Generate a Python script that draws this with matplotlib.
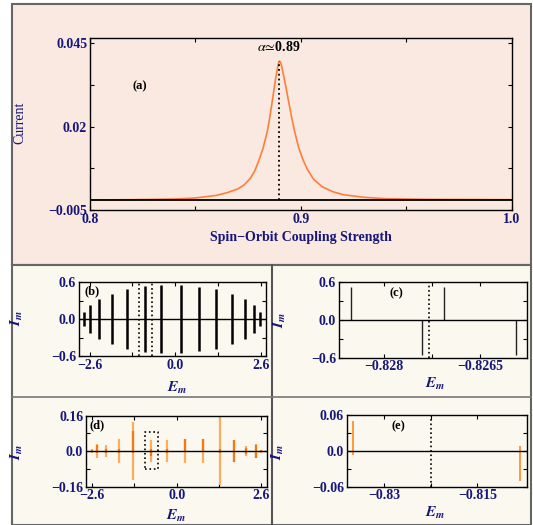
import matplotlib
matplotlib.use("Agg")
import matplotlib.pyplot as plt
from matplotlib.patches import Rectangle
from matplotlib.lines import Line2D

plt.rcParams['font.family'] = ['Liberation Serif', 'DejaVu Serif']
plt.rcParams['mathtext.fontset'] = 'stix'

NAVY = '#17177a'
ORANGE = '#ff7f3a'
PINK = '#f9e9e1'
CREAM = '#fbf8f0'

# (a) current vs spin-orbit coupling strength
alpha = [0.800, 0.820, 0.840, 0.850, 0.860, 0.865, 0.870, 0.873, 0.876, 0.878,
         0.880, 0.882, 0.884, 0.885, 0.886, 0.887, 0.888, 0.8887, 0.8893, 0.8898,
         0.8903, 0.8909, 0.8916, 0.8925, 0.894, 0.8955, 0.897, 0.899, 0.901, 0.903,
         0.906, 0.910, 0.915, 0.920, 0.930, 0.940, 0.960, 1.000]
current = [-0.0020, -0.0019, -0.0017, -0.0014, -0.0006, 0.0002, 0.0013, 0.0025, 0.0045, 0.0066,
           0.0098, 0.0135, 0.0185, 0.0220, 0.0260, 0.0303, 0.0345, 0.0370, 0.0390, 0.0397,
           0.0393, 0.0380, 0.0358, 0.0330, 0.0280, 0.0230, 0.0185, 0.0135, 0.0100, 0.0072,
           0.0042, 0.0020, 0.0005, -0.0004, -0.0012, -0.0016, -0.0018, -0.0019]
baseline = -0.002
alpha_peak = 0.8897
current_peak = 0.0397

# (b) levels
b_E = [-2.76, -2.60, -2.30, -1.93, -1.47, -0.93, -0.43, 0.16, 0.72, 1.24, 1.71, 2.10, 2.38, 2.56]
b_I = [0.12, 0.23, 0.33, 0.41, 0.49, 0.53, 0.55, 0.55, 0.52, 0.48, 0.41, 0.33, 0.23, 0.12]
b_window = [-1.11, -0.71]

# (c) zoom of (b)
c_E = [-0.82851, -0.82740, -0.82706, -0.82595]
c_I = [0.53, -0.55, 0.53, -0.55]
c_mark = -0.82729

# (d) levels
d_E = [-2.60, -2.44, -2.16, -1.78, -1.33, -0.80, -0.29, 0.26, 0.81, 1.33, 1.76, 2.14, 2.44, 2.60]
d_hi = [0.010, 0.033, 0.026, 0.057, 0.131, 0.052, 0.052, 0.057, 0.057, 0.153, 0.052, 0.023, 0.033, 0.006]
d_lo = [-0.009, -0.032, -0.025, -0.055, -0.128, -0.048, -0.050, -0.054, -0.054, -0.151, -0.050, -0.023, -0.032, -0.006]
d_dark_hi = [0.004, 0.030, 0.010, 0.010, 0.090, 0.008, 0.010, 0.055, 0.055, 0.010, 0.050, 0.015, 0.030, 0.004]
d_dark_lo = [-0.004, -0.010, -0.008, -0.010, -0.010, -0.020, -0.010, -0.005, -0.005, -0.010, -0.048, -0.012, -0.030, -0.004]
d_box = [-0.98, -0.57, -0.082, 0.085]

# (e) zoom of (d)
e_E = [-0.83503, -0.80814]
e_lo = [-0.0068, -0.0500]
e_hi = [0.0496, 0.0073]
e_mark = -0.82244

fig = plt.figure(figsize=(5.33, 5.25), dpi=100)


def px(x, y):
    return x / 533, 1 - y / 525


# panel backgrounds and frame
x0, y0 = px(12, 4)
x1, y1 = px(531, 265)
fig.patches.append(Rectangle((x0, y1), x1 - x0, y0 - y1, transform=fig.transFigure,
                             facecolor=PINK, edgecolor='#666666', lw=1.5, zorder=-10))
x0, y0 = px(12, 265)
x1, y1 = px(531, 525)
fig.patches.append(Rectangle((x0, y1), x1 - x0, y0 - y1, transform=fig.transFigure,
                             facecolor=CREAM, edgecolor='#666666', lw=1.5, zorder=-10))
fig.lines.append(Line2D([271.7 / 533] * 2, [1 - 265 / 525, 0], transform=fig.transFigure,
                        color='#555555', lw=1.5, zorder=-5))
fig.lines.append(Line2D([12 / 533, 531 / 533], [1 - 396.7 / 525] * 2, transform=fig.transFigure,
                        color='#777777', lw=1.2, zorder=-5))


def style(ax, fs=10):
    ax.set_facecolor('none')
    ax.tick_params(direction='in', top=True, right=True, length=3, width=0.8,
                   labelsize=fs, labelcolor=NAVY, pad=2)
    for s in ax.spines.values():
        s.set_linewidth(1.0)


def set_ticks(ax, xt, xl, yt, yl):
    ax.set_xticks(xt)
    ax.set_xticklabels(xl, fontweight='bold')
    ax.set_yticks(yt)
    ax.set_yticklabels(yl, fontweight='bold')


# ---- (a)
ax = fig.add_axes([90 / 533, 1 - 210 / 525, 422 / 533, 172 / 525])
ax.plot(alpha, current, color=ORANGE, lw=1.2)
ax.axhline(baseline, color='black', lw=1.3)
ax.plot([alpha_peak, alpha_peak], [baseline, current_peak], color='black', ls=':', lw=1.3)
ax.set_xlim(0.8, 1.0)
ax.set_ylim(-0.005, 0.0466)
set_ticks(ax, [0.8, 0.85, 0.9, 0.95, 1.0], ['0.8', '', '0.9', '', '1.0'],
          [-0.005, 0.0075, 0.02, 0.0325, 0.045], ['\u22120.005', '', '0.02', '', '0.045'])
ax.tick_params(axis='x', pad=3)
style(ax, 10)
ax.text(alpha_peak, 0.0418, r'$\alpha\!\simeq\!$' + '0.89', ha='center', va='bottom',
        fontsize=10, fontweight='bold')
ax.text(0.82, 0.032, '(a)', ha='left', va='center', fontsize=9, fontweight='bold')
fig.text(20 / 533, 1 - 123 / 525, 'Current', rotation=90, ha='center', va='center',
         color=NAVY, fontsize=10)
fig.text(301 / 533, 1 - 238 / 525, 'Spin\u2212Orbit Coupling Strength', ha='center',
         va='center', color=NAVY, fontsize=10, fontweight='bold')

IM = r'$\mathbfit{I}_{\mathbfit{m}}$'
EM = r'$\mathbfit{E}_{\mathbfit{m}}$'

# ---- (b)
ax = fig.add_axes([79 / 533, 1 - 356 / 525, 187 / 533, 74 / 525])
ax.vlines(b_E, [-v for v in b_I], b_I, color='black', lw=1.8)
ax.axhline(0, color='black', lw=1.0)
for xv in b_window:
    ax.axvline(xv, color='black', ls=':', lw=1.2)
ax.set_xlim(-2.92, 2.75)
ax.set_ylim(-0.6, 0.6)
set_ticks(ax, [-2.6, -1.3, 0, 1.3, 2.6], ['\u22122.6', '', '0.0', '', '2.6'],
          [-0.6, -0.3, 0, 0.3, 0.6], ['\u22120.6', '', '0.0', '', '0.6'])
style(ax, 10)
ax.text(0.03, 0.95, '(b)', transform=ax.transAxes, ha='left', va='top', fontsize=9,
        fontweight='bold')
fig.text(17 / 533, 1 - 318 / 525, IM, rotation=90, ha='center', va='center', color=NAVY, fontsize=11)
fig.text(177 / 533, 1 - 388 / 525, EM, ha='center', va='center', color=NAVY, fontsize=11)

# ---- (c)
ax = fig.add_axes([339 / 533, 1 - 357.7 / 525, 187.7 / 533, 75.4 / 525])
ax.vlines(c_E, 0, c_I, color='#222222', lw=1.0)
ax.axhline(0, color='black', lw=1.0)
ax.axvline(c_mark, color='black', ls=':', lw=1.2)
ax.set_xlim(-0.82869, -0.82578)
ax.set_ylim(-0.6, 0.6)
set_ticks(ax, [-0.828, -0.82725, -0.8265], ['\u22120.828', '', '\u22120.8265'],
          [-0.6, -0.3, 0, 0.3, 0.6], ['\u22120.6', '', '0.0', '', '0.6'])
style(ax, 10)
ax.text(0.27, 0.93, '(c)', transform=ax.transAxes, ha='left', va='top', fontsize=9,
        fontweight='bold')
fig.text(280 / 533, 1 - 320 / 525, IM, rotation=90, ha='center', va='center', color=NAVY, fontsize=11)
fig.text(435 / 533, 1 - 384 / 525, EM, ha='center', va='center', color=NAVY, fontsize=11)

# ---- (d)
ax = fig.add_axes([86 / 533, 1 - 486.7 / 525, 181 / 533, 71 / 525])
ax.vlines(d_E, d_lo, d_hi, color='#fdac5c', lw=1.6)
ax.vlines(d_E, d_dark_lo, d_dark_hi, color='#f27a10', lw=1.6)
ax.axhline(0, color='black', lw=1.0)
bx0, bx1, by0, by1 = d_box
ax.plot([bx0, bx1, bx1, bx0, bx0], [by0, by0, by1, by1, by0], color='black', ls=':', lw=1.2)
ax.set_xlim(-2.79, 2.78)
ax.set_ylim(-0.16, 0.16)
set_ticks(ax, [-2.6, -1.3, 0, 1.3, 2.6], ['\u22122.6', '', '0.0', '', '2.6'],
          [-0.16, -0.08, 0, 0.08, 0.16], ['\u22120.16', '', '0.0', '', '0.16'])
style(ax, 10)
ax.text(0.02, 0.95, '(d)', transform=ax.transAxes, ha='left', va='top', fontsize=9,
        fontweight='bold')
fig.text(17 / 533, 1 - 452 / 525, IM, rotation=90, ha='center', va='center', color=NAVY, fontsize=11)
fig.text(176 / 533, 1 - 516 / 525, EM, ha='center', va='center', color=NAVY, fontsize=11)

# ---- (e)
ax = fig.add_axes([346.7 / 533, 1 - 486.7 / 525, 180 / 533, 71.7 / 525])
ax.vlines(e_E, e_lo, e_hi, color='#ff8a1a', lw=1.2)
ax.axhline(0, color='black', lw=1.0)
ax.axvline(e_mark, color='black', ls=':', lw=1.2)
ax.set_xlim(-0.836, -0.8071)
ax.set_ylim(-0.06, 0.06)
set_ticks(ax, [-0.83, -0.8225, -0.815], ['\u22120.83', '', '\u22120.815'],
          [-0.06, -0.03, 0, 0.03, 0.06], ['\u22120.06', '', '0.0', '', '0.06'])
style(ax, 10)
ax.text(0.25, 0.93, '(e)', transform=ax.transAxes, ha='left', va='top', fontsize=9,
        fontweight='bold')
fig.text(278 / 533, 1 - 452 / 525, IM, rotation=90, ha='center', va='center', color=NAVY, fontsize=11)
fig.text(435 / 533, 1 - 513 / 525, EM, ha='center', va='center', color=NAVY, fontsize=11)

fig.savefig('out.png', dpi=100)
